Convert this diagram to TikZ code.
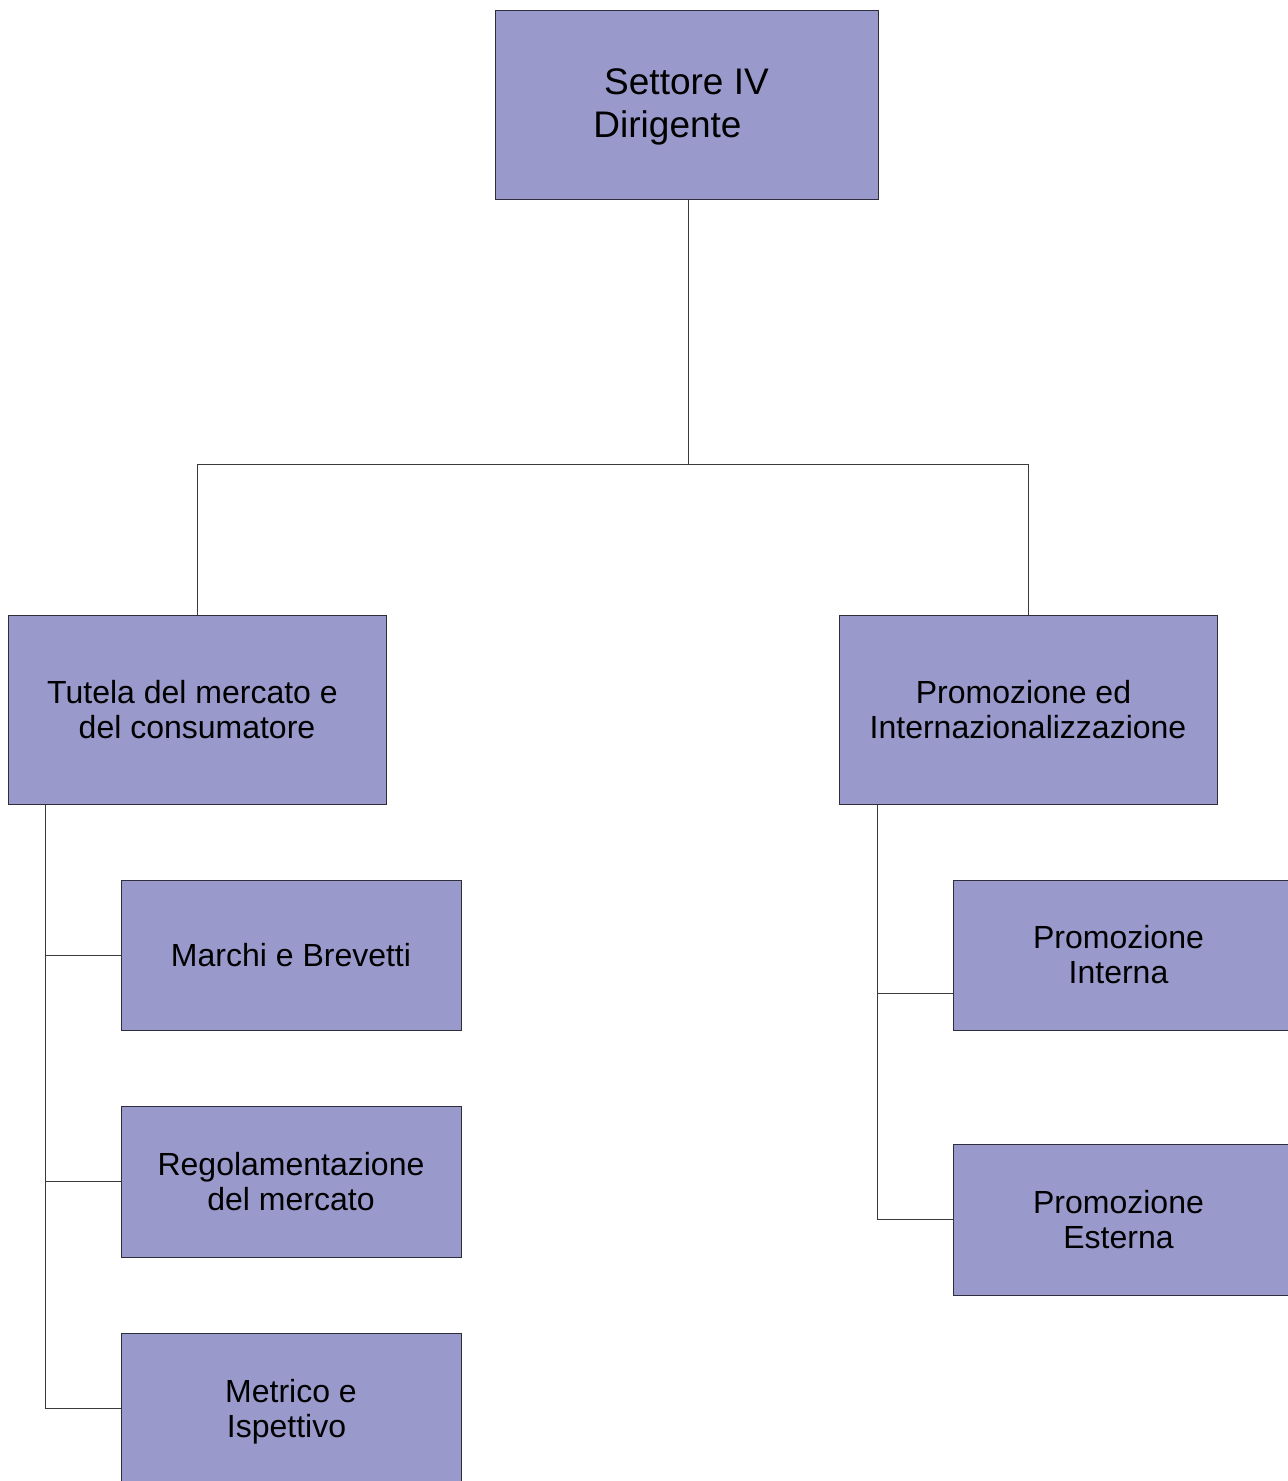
\documentclass[tikz,border=0pt]{standalone}
\usepackage{fontspec}
\setmainfont{Liberation Sans}
\definecolor{boxfill}{HTML}{9999CC}
\definecolor{boxline}{HTML}{2E2E3A}
\definecolor{connline}{HTML}{3A3A3A}
\begin{document}
\begin{tikzpicture}[x=1pt,y=-1pt,
  box/.style={draw=boxline, fill=boxfill, line width=1pt, inner sep=0pt,
    align=center, font=\fontsize{32}{35}\selectfont},
  conn/.style={draw=connline, line width=1pt}]
\useasboundingbox (0,0) rectangle (1288,1481);
\clip (0,0) rectangle (1288,1481);
\node[box, minimum width=383pt, minimum height=189pt, font=\fontsize{37}{43}\selectfont]
  (top) at (686.5,104.5) {\raisebox{0pt}[\dimexpr\height+5pt\relax]{Settore IV}\\Dirigente\hspace*{38pt}};
\node[box, minimum width=378pt, minimum height=189pt] (lmid) at (197,709.5)
  {Tutela del mercato e\hspace*{9pt}\\del consumatore};
\node[box, minimum width=378pt, minimum height=189pt] (rmid) at (1028,709.5)
  {Promozione ed\hspace*{9pt}\\Internazionalizzazione};
\node[box, minimum width=340pt, minimum height=150pt] (c1) at (291,955)
  {Marchi e Brevetti};
\node[box, minimum width=340pt, minimum height=151pt] (c2) at (291,1181.5)
  {Regolamentazione\\del mercato};
\node[box, minimum width=340pt, minimum height=158pt] (c3) at (291,1412)
  {Metrico e\\Ispettivo\hspace*{9pt}};
\node[box, minimum width=340pt, minimum height=150pt] (pi) at (1123,955)
  {Promozione\hspace*{9pt}\\Interna\hspace*{9pt}};
\node[box, minimum width=340pt, minimum height=151pt] (pe) at (1123,1219.5)
  {Promozione\hspace*{9pt}\\Esterna\hspace*{9pt}};
\coordinate (hub) at (688,464);
\draw[conn] ([xshift=1.5pt]top.south) -- (hub);
\draw[conn] (hub) -| (lmid.north);
\draw[conn] (hub) -| (rmid.north);
\coordinate (lsp) at ([xshift=38pt]lmid.south west);
\coordinate (rsp) at ([xshift=39pt]rmid.south west);
\coordinate (c3in) at (c3.west |- 0,1408);
\draw[conn] (lsp) |- (c3in);
\draw[conn] (lsp |- c1.west) -- (c1.west);
\draw[conn] (lsp |- c2.west) -- (c2.west);
\draw[conn] (rsp) |- (pe.west);
\draw[conn] (rsp |- 0,993) -- (pi.west |- 0,993);
\end{tikzpicture}
\end{document}
